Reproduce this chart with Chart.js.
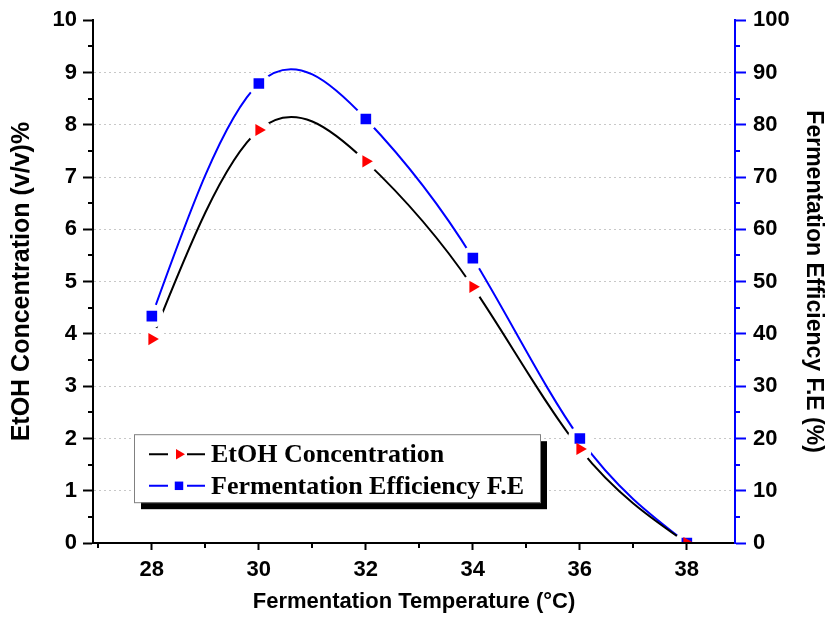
<!DOCTYPE html>
<html>
<head>
<meta charset="utf-8">
<title>EtOH concentration and fermentation efficiency</title>
<script src="https://cdn.jsdelivr.net/npm/chart.js@4.4.1/dist/chart.umd.min.js"></script>
<style>
  html, body { margin: 0; padding: 0; background: #fff; }
  #chart { display: block; }
</style>
</head>
<body>
<canvas id="chart" width="828" height="630"></canvas>
<script>
'use strict'

// values
const temperatures = [28, 30, 32, 34, 36, 38];
const etohConcentration = [3.9, 7.9, 7.3, 4.9, 1.8, 0];
const fermentationEfficiency = [43.4, 87.9, 81.1, 54.5, 20.0, 0];
const seriesLabels = ['EtOH Concentration', 'Fermentation Efficiency F.E'];

// axis ticks
const xTicks = [28, 30, 32, 34, 36, 38];
const xMinorTicks = [27, 29, 31, 33, 35, 37];
const leftTicks = [0, 1, 2, 3, 4, 5, 6, 7, 8, 9, 10];
const leftMinorTicks = [0.5, 1.5, 2.5, 3.5, 4.5, 5.5, 6.5, 7.5, 8.5, 9.5];
const rightTicks = [0, 10, 20, 30, 40, 50, 60, 70, 80, 90, 100];
const rightMinorTicks = [5, 15, 25, 35, 45, 55, 65, 75, 85, 95];

const BLUE = '#0000ff';
const RED = '#ff0000';
const sans = '"Liberation Sans", Arial, sans-serif';

function toPoints(values) {
  return temperatures.map((t, i) => ({ x: t, y: values[i] }));
}

function setTicks(list) {
  return function (scale) {
    scale.ticks = list.map(v => ({ value: v }));
  };
}

// the original plot joins the points with a natural cubic spline (Origin "Spline").
// Chart.js only does Catmull-Rom style tension, so replace its bezier control
// points with the ones of a natural spline through the same points.
const naturalSpline = {
  id: 'naturalSpline',
  beforeDatasetsDraw(chart) {
    chart.data.datasets.forEach((ds, di) => {
      if (!ds.naturalSpline) return;
      const meta = chart.getDatasetMeta(di);
      const pts = meta.data;
      const n = pts.length;
      if (n < 3) return;
      const h = [];
      for (let i = 0; i < n - 1; i++) h[i] = pts[i + 1].x - pts[i].x;
      const M = new Array(n).fill(0);
      const b = [], c = [], d = [], a = [];
      for (let i = 1; i < n - 1; i++) {
        a[i] = h[i - 1];
        b[i] = 2 * (h[i - 1] + h[i]);
        c[i] = h[i];
        d[i] = 6 * ((pts[i + 1].y - pts[i].y) / h[i] - (pts[i].y - pts[i - 1].y) / h[i - 1]);
      }
      for (let i = 2; i < n - 1; i++) {
        const w = a[i] / b[i - 1];
        b[i] -= w * c[i - 1];
        d[i] -= w * d[i - 1];
      }
      for (let i = n - 2; i >= 1; i--) M[i] = (d[i] - c[i] * M[i + 1]) / b[i];
      const slope = [];
      for (let i = 0; i < n - 1; i++) {
        slope[i] = (pts[i + 1].y - pts[i].y) / h[i] - h[i] * (2 * M[i] + M[i + 1]) / 6;
      }
      slope[n - 1] = (pts[n - 1].y - pts[n - 2].y) / h[n - 2] + h[n - 2] * (M[n - 2] + 2 * M[n - 1]) / 6;
      pts.forEach((p, i) => {
        const hb = i > 0 ? h[i - 1] : 0;
        const ha = i < n - 1 ? h[i] : 0;
        p.cp1x = p.x - hb / 3;
        p.cp1y = p.y - slope[i] * hb / 3;
        p.cp2x = p.x + ha / 3;
        p.cp2y = p.y + slope[i] * ha / 3;
      });
      meta.dataset._pointsUpdated = true;
    });
  }
};

// small outward minor ticks, Origin style
const minorTicks = {
  id: 'minorTicks',
  afterDraw(chart) {
    const { ctx, scales: { x, y, y1 } } = chart;
    ctx.save();
    ctx.lineWidth = 2;
    ctx.strokeStyle = '#000';
    ctx.beginPath();
    leftMinorTicks.forEach(v => {
      const py = Math.round(y.getPixelForValue(v));
      ctx.moveTo(y.right - 5, py);
      ctx.lineTo(y.right, py);
    });
    xMinorTicks.forEach(v => {
      const px = Math.round(x.getPixelForValue(v));
      ctx.moveTo(px, x.top);
      ctx.lineTo(px, x.top + 5);
    });
    ctx.stroke();
    ctx.strokeStyle = BLUE;
    ctx.beginPath();
    rightMinorTicks.forEach(v => {
      const py = Math.round(y1.getPixelForValue(v));
      ctx.moveTo(y1.left, py);
      ctx.lineTo(y1.left + 5, py);
    });
    ctx.stroke();
    ctx.restore();
  }
};

// boxed legend with a drop shadow inside the plot
const boxLegend = {
  id: 'boxLegend',
  afterDraw(chart) {
    const { ctx, chartArea } = chart;
    const left = chartArea.left + 41;
    const top = chartArea.top + 414;
    const width = 406;
    const height = 68;
    ctx.save();
    ctx.fillStyle = '#000';
    ctx.fillRect(left + 7, top + 7, width, height);
    ctx.fillStyle = '#fff';
    ctx.fillRect(left, top, width, height);
    ctx.strokeStyle = '#808080';
    ctx.lineWidth = 1;
    ctx.strokeRect(left + 0.5, top + 0.5, width, height);

    const rows = [
      { line: chart.data.datasets[0], mark: chart.data.datasets[4] },
      { line: chart.data.datasets[1], mark: chart.data.datasets[5] },
    ];
    rows.forEach((row, i) => {
      const cy = top + 20 + i * 31.6;
      const mx = left + 45;
      ctx.strokeStyle = row.line.borderColor;
      ctx.lineWidth = 2;
      ctx.beginPath();
      ctx.moveTo(left + 15, cy);
      ctx.lineTo(mx - 11, cy);
      ctx.moveTo(mx + 8, cy);
      ctx.lineTo(left + 71, cy);
      ctx.stroke();
      ctx.fillStyle = row.mark.pointBackgroundColor;
      Chart.helpers.drawPoint(ctx, {
        pointStyle: row.mark.pointStyle,
        rotation: row.mark.pointRotation || 0,
        radius: 6,
        borderWidth: 0,
      }, mx, cy);
      ctx.fillStyle = '#000';
      ctx.font = 'bold 26px "Liberation Serif", "Times New Roman", serif';
      ctx.textBaseline = 'middle';
      ctx.textAlign = 'left';
      ctx.fillText(seriesLabels[i], left + 77, cy + 1);
    });
    ctx.restore();
  }
};

const ctx = document.getElementById('chart').getContext('2d');

const lineStyle = {
  borderWidth: 2,
  pointRadius: 0,
  tension: 0.4,
  naturalSpline: true,
  fill: false,
  order: 3,
};
// white discs under the symbols leave the small gaps in the curve
const haloStyle = {
  showLine: false,
  pointStyle: 'circle',
  pointRadius: 12,
  pointBackgroundColor: '#fff',
  pointBorderWidth: 0,
  order: 2,
};

const data = {
  datasets: [
    { ...lineStyle, label: seriesLabels[0], data: toPoints(etohConcentration), borderColor: '#000', yAxisID: 'y' },
    { ...lineStyle, label: seriesLabels[1], data: toPoints(fermentationEfficiency), borderColor: BLUE, yAxisID: 'y1' },
    { ...haloStyle, data: toPoints(etohConcentration), yAxisID: 'y' },
    { ...haloStyle, data: toPoints(fermentationEfficiency), yAxisID: 'y1' },
    {
      label: seriesLabels[0], data: toPoints(etohConcentration), yAxisID: 'y',
      showLine: false, pointStyle: 'triangle', pointRotation: 90, pointRadius: 7,
      pointBackgroundColor: RED, pointBorderWidth: 0, order: 1,
    },
    {
      label: seriesLabels[1], data: toPoints(fermentationEfficiency), yAxisID: 'y1',
      showLine: false, pointStyle: 'rect', pointRadius: 7.5,
      pointBackgroundColor: BLUE, pointBorderWidth: 0, order: 1,
    },
  ],
};

const tickFont = { family: sans, size: 22, weight: 'bold' };

const options = {
  responsive: false,
  animation: false,
  devicePixelRatio: 1,
  events: [],
  layout: { padding: { top: 18, left: 0, right: 0, bottom: 0 } },
  plugins: {
    legend: { display: false },
    tooltip: { enabled: false },
  },
  scales: {
    x: {
      type: 'linear',
      min: 26.9,
      max: 38.9,
      afterBuildTicks: setTicks(xTicks),
      afterFit: (scale) => { scale.height = 87; },
      grid: { drawOnChartArea: false, tickLength: 7, tickWidth: 2, tickColor: '#000' },
      border: { color: '#000', width: 2, z: 1 },
      ticks: { color: '#000', font: tickFont, padding: 7, autoSkip: false, maxRotation: 0 },
      title: {
        display: true,
        text: 'Fermentation Temperature (°C)',
        color: '#000',
        font: { family: sans, size: 22, weight: 'bold' },
        padding: { top: 0, bottom: 15 },
      },
    },
    y: {
      type: 'linear',
      position: 'left',
      min: 0,
      max: 10,
      afterBuildTicks: setTicks(leftTicks),
      afterFit: (scale) => { scale.width = 93; },
      grid: {
        color: (c) => (c.tick && (c.tick.value === 10 || c.tick.value === 0)) ? 'rgba(0,0,0,0)' : '#c8c8c8',
        lineWidth: 1,
        tickLength: 10,
        tickWidth: 2,
        tickColor: '#000',
      },
      border: { color: '#000', width: 2, dash: [2, 3], z: 1 },
      ticks: { color: '#000', font: tickFont, padding: 6 },
      title: {
        display: true,
        text: 'EtOH Concentration (v/v)%',
        color: '#000',
        font: { family: sans, size: 25, weight: 'bold' },
        padding: { top: 7, bottom: 0 },
      },
    },
    y1: {
      type: 'linear',
      position: 'right',
      min: 0,
      max: 100,
      afterBuildTicks: setTicks(rightTicks),
      afterFit: (scale) => { scale.width = 93; },
      grid: { drawOnChartArea: false, tickLength: 11, tickWidth: 2, tickColor: BLUE },
      border: { color: BLUE, width: 2, z: 1 },
      ticks: { color: '#000', font: tickFont, padding: 7 },
      title: {
        display: true,
        text: 'Fermentation Efficiency F.E (%)',
        color: '#000',
        font: { family: sans, size: 23, weight: 'bold' },
        padding: { top: 1, bottom: 0 },
      },
    },
  },
};

const myChart = new Chart(ctx, {
  type: 'line',
  data: data,
  options: options,
  plugins: [naturalSpline, minorTicks, boxLegend],
});
myChart;
</script>
</body>
</html>
